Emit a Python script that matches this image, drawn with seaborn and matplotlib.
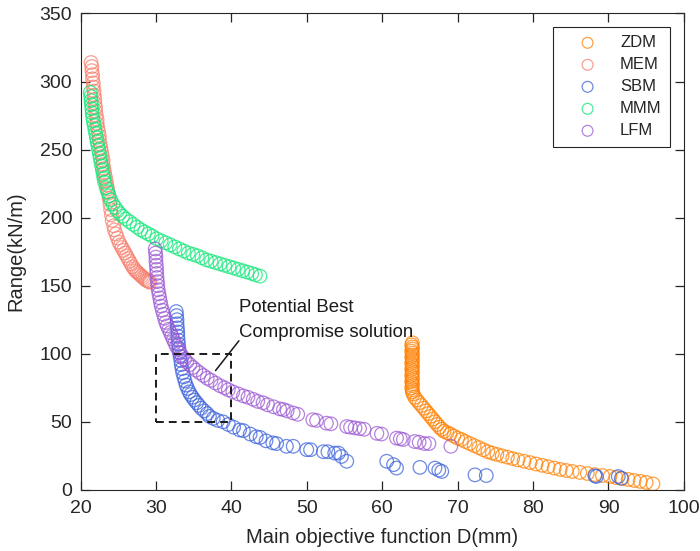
import matplotlib
matplotlib.use('Agg')
import matplotlib.pyplot as plt
import seaborn as sns
from matplotlib.patches import Rectangle

# ---- data ----
methods = ['ZDM', 'MEM', 'SBM', 'MMM', 'LFM']

zdm_x = [64.0, 63.9, 64.0, 64.0, 63.9, 64.0, 64.0, 63.9, 64.0, 64.0, 63.9, 64.0, 64.0,
         63.9, 64.0, 64.0, 63.9, 64.0, 64.0, 63.9, 64.0, 64.0, 63.9, 64.0, 64.0, 64.1,
         64.3, 64.6, 64.9, 65.2, 65.5, 65.8, 66.1, 66.4, 66.7, 67.0, 67.3, 67.6, 67.9,
         68.2, 68.6, 69.0, 69.5, 70.0, 70.5, 71.0, 71.6, 72.2, 72.8, 73.4, 74.0, 74.6,
         75.2, 75.9, 76.6, 77.3, 78.0, 78.8, 79.6, 80.4, 81.2, 82.0, 82.8, 83.6, 84.4,
         85.2, 86.2, 87.2, 88.2, 89.2, 90.2, 91.0, 91.8, 92.6, 93.4, 94.2, 95.0, 95.9]
zdm_y = [108, 106.5, 105, 103.5, 102, 100.5, 99, 97.5, 96, 94.5, 93, 91.5, 90,
         88.5, 87, 85.5, 84, 82.5, 81, 79.5, 78, 76.5, 75, 73.5, 72, 70.5,
         68, 66, 64, 62, 60, 58, 56, 54, 52, 50, 48, 46, 44.5,
         43, 42, 41, 39.5, 38, 37, 35.5, 34, 32.5, 31, 29.5, 28, 27,
         26, 25, 24, 23, 22, 21, 20, 19, 18, 17, 16, 15, 14.2,
         13.5, 12.8, 12, 11.2, 10.5, 9.8, 9, 8.3, 7.6, 6.9, 6.2, 5.4, 4.4]

mem_x = [21.4, 21.5, 21.5, 21.6, 21.6, 21.7, 21.7, 21.8, 21.8, 21.9, 21.9, 22.0, 22.0,
         22.1, 22.2, 22.2, 22.3, 22.4, 22.5, 22.5, 22.6, 22.7, 22.8, 22.9, 23.0, 23.0,
         23.1, 23.2, 23.3, 23.4, 23.5, 23.6, 23.7, 23.8, 23.9, 24.0, 24.1, 24.2, 24.4,
         24.5, 24.7, 24.9, 25.1, 25.3, 25.5, 25.7, 25.9, 26.1, 26.3, 26.5, 26.7, 26.9,
         27.1, 27.3, 27.5, 27.7, 27.9, 28.1, 28.3, 28.5, 28.7, 28.9, 29.1, 29.2]
mem_y = [314, 311, 308, 305, 302, 299, 296, 293, 290, 287, 284, 281, 278,
         275, 272, 269, 266, 263, 260, 257, 254, 251, 248, 245, 242, 239,
         236, 233, 230, 227, 224, 221, 218, 214, 210, 206, 202, 198, 194,
         191, 188, 185, 182, 180, 178, 176, 174, 172, 170, 168, 166, 164,
         162.5, 161, 160, 159, 158, 157, 156, 155, 154, 153.5, 153, 152.5]

sbm_x = [32.7, 32.75, 32.8, 32.8, 32.85, 32.9, 32.9, 32.95, 33.0, 33.05,
         33.1, 33.2, 33.3, 33.35, 33.45, 33.55, 33.7, 33.85, 34.0, 34.2,
         34.4, 34.6, 34.85, 35.1, 35.4, 35.7, 36.0, 36.4, 36.8, 37.1,
         37.6, 38.2, 38.9, 39.6, 40.3, 41.1, 41.6, 42.5, 43.3, 43.8,
         44.6, 45.5, 46.0, 47.3, 48.2, 50.0, 50.5, 52.2, 52.8, 53.7,
         54.2, 54.6, 55.3, 60.6, 61.5, 61.9, 65.0, 67.0, 67.5, 67.9,
         72.3, 73.8, 88.2, 88.4, 91.3, 91.7]
sbm_y = [131, 128, 125, 122, 119, 116, 113, 110, 107, 104,
         101, 98, 95, 92, 89, 86, 83, 80, 77, 74.5,
         72, 70, 68, 66, 64, 62, 60, 58, 56, 54,
         52.5, 51, 50, 48, 46, 44, 43.5, 41, 39, 38.5,
         36, 34.5, 34, 32, 32, 29.5, 29.5, 28, 28, 27,
         27, 24.5, 21, 21, 18.5, 16, 16.5, 16, 14.5, 13.5,
         11, 10.5, 10.3, 9.8, 9.8, 8.5]

mmm_x = [21.3, 21.35, 21.4, 21.45, 21.5, 21.55, 21.6, 21.7, 21.8, 21.9, 22.0, 22.1,
         22.2, 22.3, 22.4, 22.5, 22.6, 22.7, 22.8, 22.9, 23.0, 23.1, 23.2, 23.4,
         23.6, 23.8, 24.0, 24.3, 24.6, 24.9, 25.2, 25.6, 26.0, 26.5, 27.0, 27.5,
         28.0, 28.5, 29.0, 29.5, 30.1, 30.7, 31.3, 31.9, 32.5, 33.1, 33.7, 34.3,
         34.9, 35.5, 36.1, 36.7, 37.3, 37.9, 38.5, 39.1, 39.7, 40.3, 40.9, 41.5,
         42.1, 42.7, 43.2, 43.8]
mmm_y = [292, 289, 286, 283, 280, 277, 274, 271, 268, 265, 262, 259,
         256, 253, 250, 247, 244, 241, 238, 235, 232, 229, 226, 222,
         219, 216, 213, 210, 207.5, 205, 203, 201, 199, 197, 195, 193,
         191, 189.5, 188, 186.5, 184.5, 183, 181.5, 180, 178.5, 177, 175.5, 174,
         173, 172, 170.5, 169, 168, 167, 166, 165, 164, 163, 162, 161,
         160, 159, 158, 157]

lfm_x = [29.9, 29.95, 30.0, 30.0, 30.05, 30.1, 30.1, 30.15, 30.2, 30.25,
         30.3, 30.4, 30.5, 30.6, 30.7, 30.85, 31.0, 31.15, 31.3, 31.5,
         31.7, 31.9, 32.1, 32.3, 32.5, 32.7, 33.0, 33.2, 33.5, 33.8,
         34.1, 34.5, 34.9, 35.3, 35.8, 36.3, 36.8, 37.3, 37.9, 38.5,
         39.1, 39.6, 40.2, 40.9, 41.6, 42.2, 42.9, 43.5, 44.2, 44.8,
         45.6, 46.4, 46.9, 47.4, 48.2, 48.8, 50.8, 51.3, 52.6, 53.2,
         55.3, 55.8, 56.4, 57.0, 57.6, 59.3, 59.9, 61.9, 62.4, 62.8,
         64.3, 64.9, 65.6, 66.2, 69.1]
lfm_y = [177, 174, 171, 168, 165, 162, 159, 156, 153, 150,
         147, 144, 141, 138, 135, 132, 129, 126, 123, 120.5,
         118, 115.5, 113, 110.5, 108, 105.5, 103, 100.5, 98, 96,
         94, 92, 90, 88, 86, 84, 82, 80.5, 78.5, 76.5,
         75, 73.5, 72, 70.5, 69, 68, 66.5, 65, 64, 62.5,
         61, 59.5, 59, 58, 56.5, 55.5, 51.5, 51, 49, 48.5,
         46.5, 46, 45.5, 45, 44.5, 41.5, 41, 38, 37.5, 37,
         35.5, 35, 34, 34, 32]

colors = ['#FF8000', '#F8806E', '#3D63DB', '#10E878', '#9D5AD3']
series = [(zdm_x, zdm_y), (mem_x, mem_y), (sbm_x, sbm_y), (mmm_x, mmm_y), (lfm_x, lfm_y)]

# highlighted region and its callout
box_x, box_y, box_w, box_h = 30, 50, 10, 50
callout_line_x = [37.9, 41.0]
callout_line_y = [87.6, 109.5]

sns.set_style('ticks')
plt.rcParams['font.family'] = ['Liberation Sans', 'DejaVu Sans']
dark = '#262626'

fig = plt.figure(figsize=(7, 5.51), dpi=100)
ax = fig.add_axes([0.115, 0.111, 0.862, 0.8645])

for name, (xs, ys), col in zip(methods, series, colors):
    sns.scatterplot(x=xs, y=ys, ax=ax, marker='o', s=95, facecolors='none',
                    edgecolor=col, linewidth=0.9, alpha=0.75, label=name)

ax.add_patch(Rectangle((box_x, box_y), box_w, box_h, fill=False, ec='#1a1a1a',
                       lw=1.4, ls=(0, (4, 2.6))))
ax.plot(callout_line_x, callout_line_y, color='#1a1a1a', lw=1.1)
ax.text(41.0, 131, 'Potential Best', fontsize=13.4, color='#1a1a1a', va='baseline')
ax.text(41.0, 112, 'Compromise solution', fontsize=13.4, color='#1a1a1a', va='baseline')

ax.set_xlim(20, 100)
ax.set_ylim(0, 350)
ax.set_xticks(range(20, 101, 10))
ax.set_yticks(range(0, 351, 50))
# matlab-like box with inward ticks on every side
ax.tick_params(which='major', direction='in', length=6.5, width=0.9,
               bottom=True, left=True, top=True, right=True,
               labelsize=14, color=dark, labelcolor=dark)
ax.tick_params(axis='x', pad=7)
ax.tick_params(axis='y', pad=6)
for sp in ax.spines.values():
    sp.set_visible(True)
    sp.set_color(dark)
    sp.set_linewidth(0.8)

ax.set_xlabel('Main objective function D(mm)', fontsize=14.5, color=dark, labelpad=8)
ax.set_ylabel('Range(kN/m)', fontsize=14.5, color=dark, labelpad=10)

leg = ax.legend(loc='upper right', bbox_to_anchor=(0.977, 0.972), fontsize=12,
                frameon=True, fancybox=False, edgecolor=dark, framealpha=1,
                borderpad=0.5, handlelength=3.2, handletextpad=0.35,
                labelspacing=0.42, markerscale=0.8, borderaxespad=0)
leg.get_frame().set_linewidth(0.8)

fig.savefig('out.png', dpi=100)
